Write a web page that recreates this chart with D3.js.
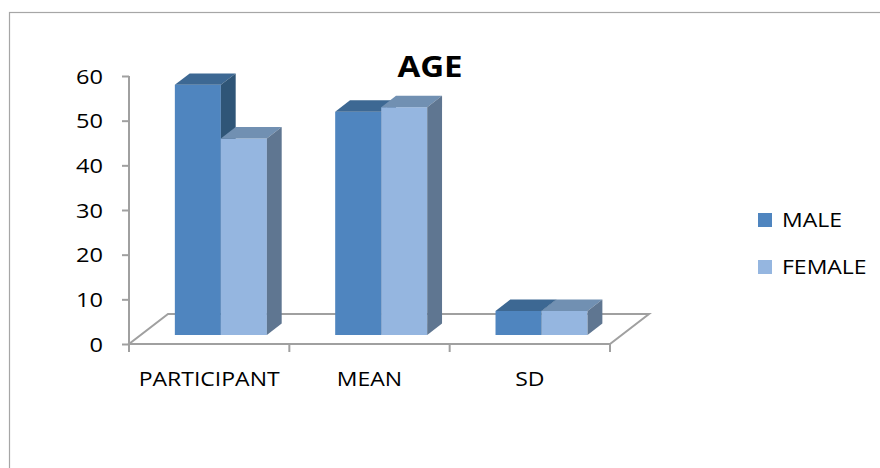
<!DOCTYPE html>
<html>
<head>
<meta charset="utf-8">
<script src="https://cdn.jsdelivr.net/npm/d3@7"></script>
<style>
  html, body { margin: 0; padding: 0; background: #fff; }
  svg { display: block; }
  text { font-family: "Open Sans", Lato, sans-serif; fill: #000; }
</style>
</head>
<body>
<svg id="chart" width="880" height="468"></svg>
<script>
// Chart data
const categories = ["PARTICIPANT", "MEAN", "SD"];
const seriesNames = ["MALE", "FEMALE"];
const maleValues = [56, 50, 5.4];
const femaleValues = [44, 51, 5.4];
const yTicks = [0, 10, 20, 30, 40, 50, 60];
const chartTitle = "AGE";

const palette = {
  MALE:   { front: "#4F85BF", top: "#3D6893", side: "#2F5577" },
  FEMALE: { front: "#95B6E0", top: "#7190B2", side: "#5F7691" }
};

// Text is drawn slightly widened horizontally
const textStretch = 1.18;

const svg = d3.select("#chart");

function label(parent, x, y, str, size, anchor, weight) {
  return parent.append("text")
    .attr("transform", `translate(${x},${y}) scale(${textStretch},1)`)
    .attr("text-anchor", anchor || "start")
    .attr("font-size", size)
    .attr("font-weight", weight || "normal")
    .text(str);
}

// Outer chart frame
svg.append("rect")
  .attr("x", 9.5).attr("y", 12.5)
  .attr("width", 900).attr("height", 500)
  .attr("fill", "none").attr("stroke", "#a6a6a6").attr("stroke-width", 1.2);

// Plot geometry: front plane plus an oblique depth vector for the floor
const plotLeft = 129, plotRight = 610, baseY = 344, topY = 76;
const depth = { dx: 39, dy: -30 };
const barFront = 0.3, barBack = 0.68;   // bar position within the floor depth

const x = d3.scaleBand().domain(categories).range([plotLeft, plotRight]);
const bw = x.bandwidth();
const xs = d3.scaleBand().domain(seriesNames).range([bw * 0.213, bw * 0.787]);
const y = d3.scaleLinear().domain([0, 60]).range([baseY, topY]);

// Floor
const floor = [
  [plotLeft, baseY], [plotRight, baseY],
  [plotRight + depth.dx, baseY + depth.dy], [plotLeft + depth.dx, baseY + depth.dy]
];
svg.append("polygon")
  .attr("points", floor.map(p => p.join(",")).join(" "))
  .attr("fill", "none").attr("stroke", "#a0a0a0").attr("stroke-width", 2);

// Y axis: tick marks from d3, labels drawn widened
const yAxis = svg.append("g")
  .attr("transform", `translate(${plotLeft},0)`)
  .call(d3.axisLeft(y).tickValues(yTicks).tickSize(7).tickFormat(""));
yAxis.select(".domain").remove();
yAxis.append("line")
  .attr("x1", 0).attr("x2", 0).attr("y1", topY).attr("y2", baseY + 8)
  .attr("stroke", "#a0a0a0").attr("stroke-width", 2);
yAxis.selectAll(".tick line").attr("stroke", "#a0a0a0").attr("stroke-width", 2);
const yLabels = svg.append("g");
yTicks.forEach(t => label(yLabels, 103, y(t) + 7.5, String(t), 20, "end"));

// X axis: category boundaries and labels
const xBounds = categories.map(c => x(c) + bw).concat([plotLeft]);
svg.append("g").selectAll("line").data(xBounds).join("line")
  .attr("x1", d => d).attr("x2", d => d)
  .attr("y1", baseY).attr("y2", baseY + 8)
  .attr("stroke", "#a0a0a0").attr("stroke-width", 2);
const xLabels = svg.append("g");
categories.forEach(c => label(xLabels, x(c) + bw / 2, 386, c, 19.5, "middle"));

// 3D bars
const bars = [];
categories.forEach((c, i) => {
  bars.push({ cat: c, series: "MALE", value: maleValues[i] });
  bars.push({ cat: c, series: "FEMALE", value: femaleValues[i] });
});

const fx = barFront * depth.dx, fy = barFront * depth.dy;
const ddx = (barBack - barFront) * depth.dx, ddy = (barBack - barFront) * depth.dy;
const barW = xs.bandwidth();

const barG = svg.append("g");
bars.forEach(b => {
  const x0 = x(b.cat) + xs(b.series) + fx;
  const x1 = x0 + barW;
  const y0 = y(0) + fy;
  const y1 = y(b.value) + fy;
  const col = palette[b.series];
  const g = barG.append("g");
  g.append("polygon")
    .attr("points", [[x0, y0], [x1, y0], [x1, y1], [x0, y1]].map(p => p.join(",")).join(" "))
    .attr("fill", col.front);
  g.append("polygon")
    .attr("points", [[x0, y1], [x1, y1], [x1 + ddx, y1 + ddy], [x0 + ddx, y1 + ddy]].map(p => p.join(",")).join(" "))
    .attr("fill", col.top);
  g.append("polygon")
    .attr("points", [[x1, y0], [x1 + ddx, y0 + ddy], [x1 + ddx, y1 + ddy], [x1, y1]].map(p => p.join(",")).join(" "))
    .attr("fill", col.side);
});

// Title
label(svg, 430, 77, chartTitle, 28, "middle", "bold");

// Legend
const legend = svg.append("g").selectAll("g").data(seriesNames).join("g")
  .attr("transform", (d, i) => `translate(758,${213 + i * 47})`);
legend.append("rect")
  .attr("width", 14).attr("height", 14)
  .attr("fill", d => palette[d].front);
legend.each(function (d) { label(d3.select(this), 24, 14, d, 19.5, "start"); });
</script>
</body>
</html>
